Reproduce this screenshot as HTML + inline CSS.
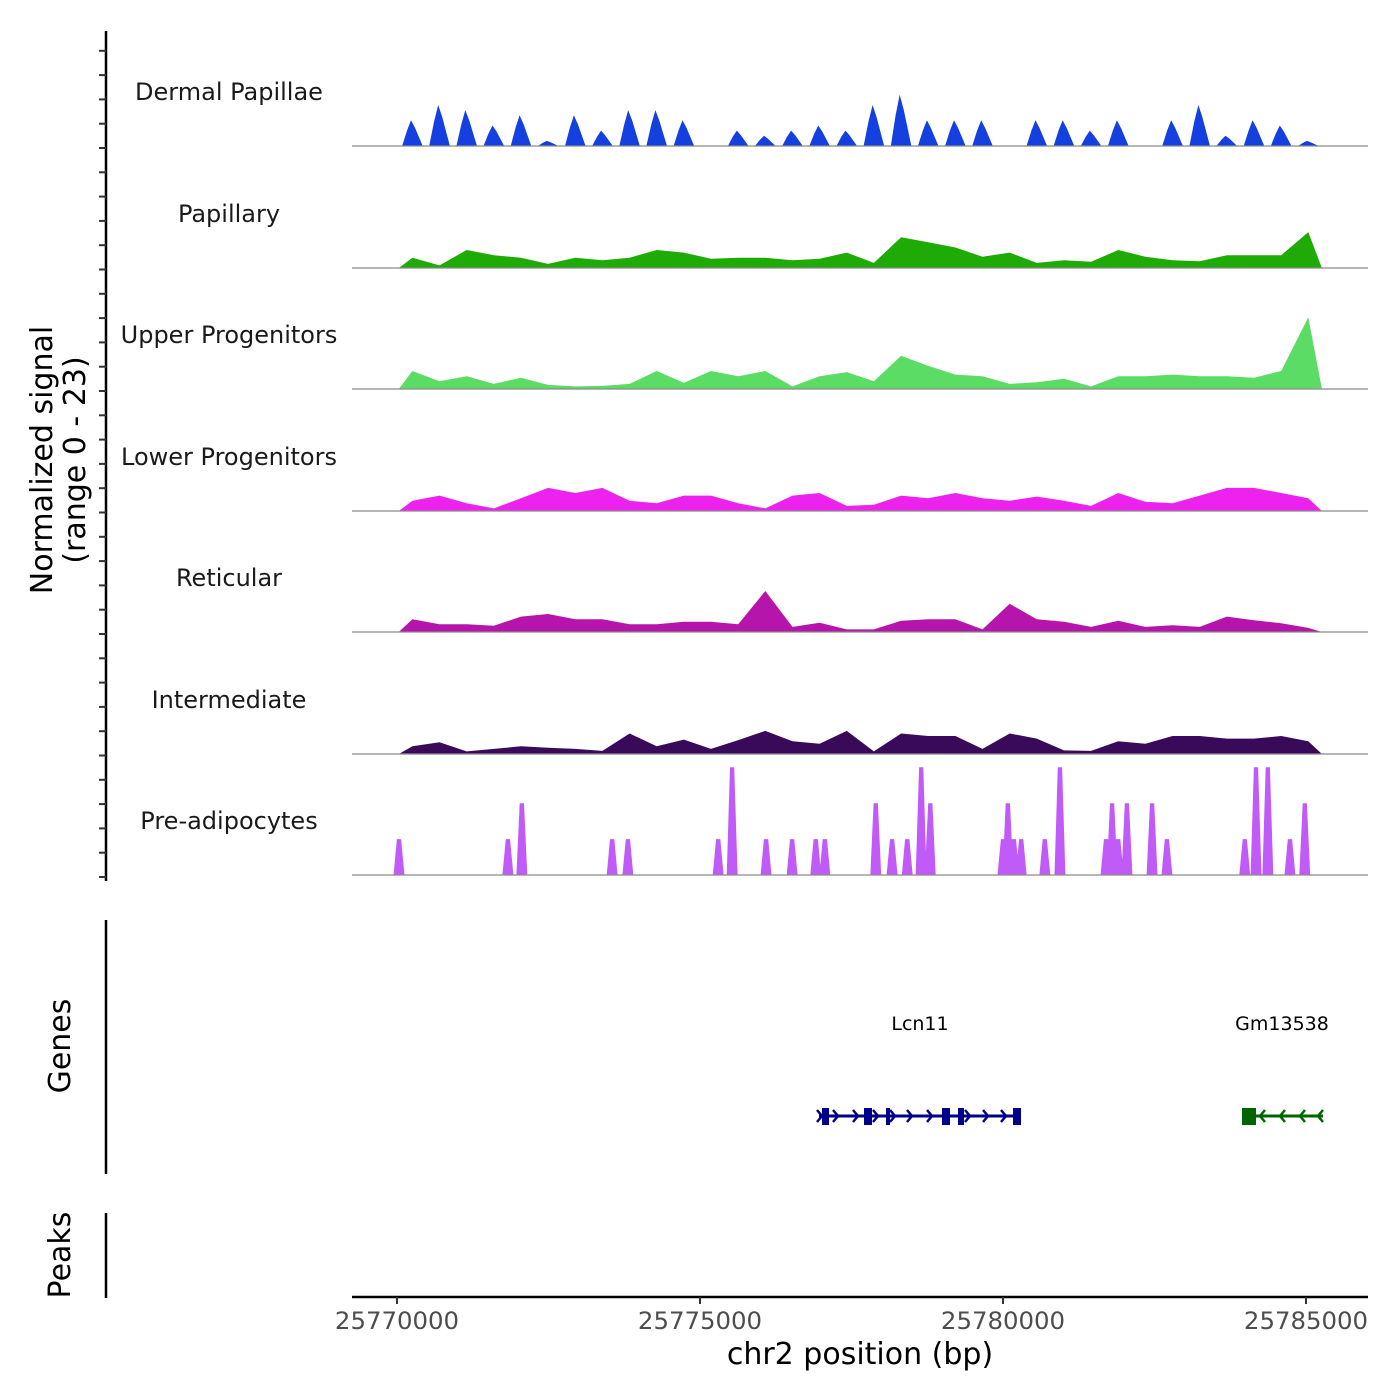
<!DOCTYPE html>
<html><head><meta charset="utf-8"><style>
html,body{margin:0;padding:0;background:#fff;}
svg{display:block;font-family:"DejaVu Sans","Liberation Sans",sans-serif;}
</style></head><body>
<svg id="chart" width="1400" height="1400" viewBox="0 0 1400 1400" xmlns="http://www.w3.org/2000/svg">
<g id="tracks"></g>
<g id="yaxis"></g>
<text transform="translate(52,460) rotate(-90)" text-anchor="middle" font-size="30" fill="#000">Normalized signal</text>
<text transform="translate(85,460) rotate(-90)" text-anchor="middle" font-size="30" fill="#000">(range 0 - 23)</text>
<line x1="106" y1="920" x2="106" y2="1174" stroke="#000" stroke-width="2.5"/>
<text transform="translate(70,1046) rotate(-90)" text-anchor="middle" font-size="30" fill="#000">Genes</text>
<line x1="106" y1="1213" x2="106" y2="1298" stroke="#000" stroke-width="2.5"/>
<text transform="translate(70,1255) rotate(-90)" text-anchor="middle" font-size="30" fill="#000">Peaks</text>
<g id="genes"></g>
<g id="xaxis"></g>
<text x="860" y="1364" text-anchor="middle" font-size="30" fill="#000">chr2 position (bp)</text>
</svg>
<script>
const NS="http://www.w3.org/2000/svg";
const binStart=25770030, binWidth=448;
const trackNames=["Dermal Papillae","Papillary","Upper Progenitors","Lower Progenitors","Reticular","Intermediate","Pre-adipocytes"];
const trackColors=["#1540e0","#1eab05","#5bdc64","#ee22ee","#b515aa","#3a0a5a","#c15bf7"];
const dermalPapillae=[5,8,7,4,6,1,6,3,7,7,5,0,3,2,3,4,3,8,10,5,5,5,0,5,5,3,5,0,5,8,2,5,4,1];
const papillary=[2,0.5,3.5,2.5,2,0.8,2,1.5,2,3.5,3,1.8,2,2,1.5,1.8,3,1,6,5,4,2.2,3,1,1.5,1.2,3.5,2.2,1.5,1.3,2.5,2.5,2.5,7];
const upperProgenitors=[3.5,1.5,2.5,1,2.2,0.8,0.5,0.6,1,3.5,1.2,3.5,2.5,3.5,0.5,2.5,3.3,1.5,6.5,4.5,2.8,2.5,1,1.3,2,0.5,2.5,2.5,2.8,2.5,2.5,2.2,3.5,14];
const lowerProgenitors=[2,3,1.5,0.5,2.5,4.5,3.5,4.5,2,1.5,3,3,1.5,0.5,3,3.5,1,1.2,3,2.5,3.5,2.5,2,2.8,2,1,3.5,1.8,1.5,3,4.5,4.5,3.5,2.5];
const reticular=[2.5,1.5,1.5,1.2,3,3.5,2.5,2.5,1.5,1.5,2,2,1.5,8,1,1.8,0.5,0.5,2.2,2.5,2.5,0.5,5.5,2.5,2,1,2.2,1,1.3,1,3,2.3,1.7,0.8];
const intermediate=[1.5,2.3,0.5,1,1.5,1.2,1,0.6,4,1.5,2.8,1,2.7,4.5,2.5,2,4.5,0.5,4,3.5,3.5,1,4,3,0.7,0.6,2.5,2,3.5,3.5,3,3,3.5,2.5];
const preadipoPos=[25770033,25771830,25772060,25773550,25773810,25775300,25775530,25776090,25776520,25776910,25777060,25777900,25778170,25778420,25778650,25778800,25780000,25780080,25780180,25780300,25780690,25780940,25781700,25781800,25781900,25782045,25782460,25782705,25783990,25784175,25784370,25784735,25784980];
const preadipoVal=[7,7,14,7,7,7,21,7,7,7,7,14,7,7,21,14,7,14,7,7,7,21,7,14,7,14,14,7,7,21,21,7,14];
const binned=[dermalPapillae,papillary,upperProgenitors,lowerProgenitors,reticular,intermediate];
const xTicks=[25770000,25775000,25780000,25785000];
const xTickLabels=["25770000","25775000","25780000","25785000"];

const X=bp=>397+(bp-25770000)*0.0606;
const baselines=[146,268,389,511,632,754,875];
const pxPerUnit=5.13;
const Y=(t,v)=>baselines[t]-v*pxPerUnit;

const tracks=document.getElementById('tracks');
trackNames.forEach((name,t)=>{
  const g=document.createElementNS(NS,'g');
  
  
  tracks.appendChild(g);
  let pts=[];
  if(t===0){
    const vals=binned[t];
    vals.forEach((v,i)=>{
      const b=binStart+binWidth*i;
      pts.push([X(b+binWidth*0.12),Y(t,0)]);
      pts.push([X(b+binWidth*0.3),Y(t,v*0.6)]);
      pts.push([X(b+binWidth*0.45),Y(t,v)]);
      pts.push([X(b+binWidth*0.6),Y(t,v*0.7)]);
      pts.push([X(b+binWidth*0.88),Y(t,0)]);
    });
  } else if(t<6){
    const vals=binned[t];
    pts.push([X(binStart),Y(t,0)]);
    vals.forEach((v,i)=>{pts.push([X(binStart+binWidth*(i+0.5)),Y(t,v)]);});
    pts.push([X(binStart+binWidth*vals.length),Y(t,0)]);
  } else {
    preadipoPos.forEach((p,i)=>{
      pts.push([X(p-90),Y(t,0)]);
      pts.push([X(p-35),Y(t,preadipoVal[i])]);
      pts.push([X(p+35),Y(t,preadipoVal[i])]);
      pts.push([X(p+90),Y(t,0)]);
    });
  }
  const poly=document.createElementNS(NS,'polygon');
  poly.setAttribute('points',pts.map(p=>p[0].toFixed(1)+','+p[1].toFixed(1)).join(' '));
  poly.setAttribute('fill',trackColors[t]);
  
  
  g.appendChild(poly);
  const bl=document.createElementNS(NS,'line');
  bl.setAttribute('x1',352);bl.setAttribute('x2',1368);
  bl.setAttribute('y1',baselines[t]);bl.setAttribute('y2',baselines[t]);
  bl.setAttribute('stroke','#8a8a8a');bl.setAttribute('stroke-width','1.2');
  
  
  g.appendChild(bl);
  const lab=document.createElementNS(NS,'text');
  lab.setAttribute('x',229);lab.setAttribute('y',baselines[t]-46);
  lab.setAttribute('text-anchor','middle');lab.setAttribute('font-size','24');lab.setAttribute('fill','#1a1a1a');
  lab.textContent=name;
  
  
  g.appendChild(lab);
});

const ya=document.getElementById('yaxis');
const yl=document.createElementNS(NS,'line');
yl.setAttribute('x1',106);yl.setAttribute('x2',106);yl.setAttribute('y1',31);yl.setAttribute('y2',881);
yl.setAttribute('stroke','#000');yl.setAttribute('stroke-width','2.5');


ya.appendChild(yl);
for(let i=0;i<35;i++){
  const y=877-i*24.3;
  const tk=document.createElementNS(NS,'line');
  tk.setAttribute('x1',99);tk.setAttribute('x2',106);tk.setAttribute('y1',y);tk.setAttribute('y2',y);
  tk.setAttribute('stroke','#333');tk.setAttribute('stroke-width','2');
  
  
  ya.appendChild(tk);
}

const xa=document.getElementById('xaxis');
const xl=document.createElementNS(NS,'line');
xl.setAttribute('x1',352);xl.setAttribute('x2',1368);xl.setAttribute('y1',1297);xl.setAttribute('y2',1297);
xl.setAttribute('stroke','#000');xl.setAttribute('stroke-width','2.5');


xa.appendChild(xl);
xTicks.forEach((v,i)=>{
  const x=X(v);
  const tk=document.createElementNS(NS,'line');
  tk.setAttribute('x1',x);tk.setAttribute('x2',x);tk.setAttribute('y1',1297);tk.setAttribute('y2',1304);
  tk.setAttribute('stroke','#333');tk.setAttribute('stroke-width','2');
  
  
  xa.appendChild(tk);
  const tx=document.createElementNS(NS,'text');
  tx.setAttribute('x',x);tx.setAttribute('y',1329);tx.setAttribute('text-anchor','middle');
  tx.setAttribute('font-size','24.4');tx.setAttribute('fill','#4d4d4d');
  tx.textContent=xTickLabels[i];
  
  
  xa.appendChild(tx);
});

const genes=document.getElementById('genes');
function gene(name,color,x1,x2,exons,dir,chev,labX){
  const g=document.createElementNS(NS,'g');
  
  
  genes.appendChild(g);
  const l=document.createElementNS(NS,'line');
  l.setAttribute('x1',x1);l.setAttribute('x2',x2);l.setAttribute('y1',1116);l.setAttribute('y2',1116);
  l.setAttribute('stroke',color);l.setAttribute('stroke-width','3');
  
  
  g.appendChild(l);
  chev.forEach(cx=>{
    const p=document.createElementNS(NS,'polyline');
    const d=dir*5;
    p.setAttribute('points',(cx-d)+',1110 '+cx+',1116 '+(cx-d)+',1122');
    p.setAttribute('fill','none');p.setAttribute('stroke',color);p.setAttribute('stroke-width','2.5');
    
    
    g.appendChild(p);
  });
  exons.forEach(e=>{
    const r=document.createElementNS(NS,'rect');
    r.setAttribute('x',e[0]);r.setAttribute('width',e[1]-e[0]);r.setAttribute('y',1108);r.setAttribute('height',17);
    r.setAttribute('fill',color);
    
    
    g.appendChild(r);
  });
  const t=document.createElementNS(NS,'text');
  t.setAttribute('x',labX);t.setAttribute('y',1030);t.setAttribute('text-anchor','middle');
  t.setAttribute('font-size','19');t.setAttribute('fill','#000');
  t.textContent=name;
  
  
  g.appendChild(t);
}
gene('Lcn11','#00008b',819,1021,[[822,829],[864,872],[886,890],[942,950],[958,964],[1013,1021]],1,[822,838,858,878,895,912,932,970,988,1006],920);
gene('Gm13538','#006400',1242,1323,[[1242,1256]],-1,[1260,1280,1300,1318],1282);
</script>
</body></html>
